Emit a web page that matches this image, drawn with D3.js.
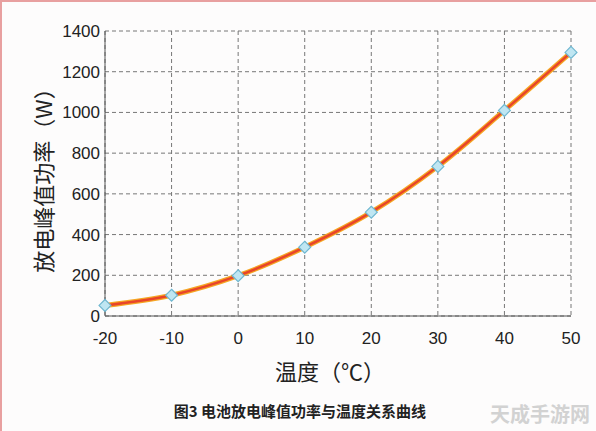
<!DOCTYPE html><html><head><meta charset="utf-8"><script src="https://cdn.jsdelivr.net/npm/d3@7"></script>
<style>body{margin:0;background:#fff}</style></head><body><svg id="c" width="596" height="431"></svg>
<script>
const temps=[-20,-10,0,10,20,30,40,50];
const power=[52,102,198,338,510,735,1010,1295];
const yTicks=[0,200,400,600,800,1000,1200,1400];
const svg=d3.select("#c");
svg.append("rect").attr("x",0).attr("y",0).attr("width",596).attr("height",431).attr("fill","#fdfcfc");
svg.append("path").attr("d","M1,431V1H596").attr("fill","none").attr("stroke","#e8a0a0").attr("stroke-width",2);
const x=d3.scaleLinear().domain([-20,50]).range([105,571]);
const y=d3.scaleLinear().domain([0,1400]).range([316,31]);
const g=svg.append("g");
g.selectAll(".gx").data(temps).join("line").attr("x1",d=>x(d)).attr("x2",d=>x(d)).attr("y1",y(1400)).attr("y2",y(0)).attr("stroke","#777").attr("stroke-dasharray","4,3");
g.selectAll(".gy").data(yTicks).join("line").attr("y1",d=>y(d)).attr("y2",d=>y(d)).attr("x1",x(-20)).attr("x2",x(50)).attr("stroke","#777").attr("stroke-dasharray","4,3");
g.append("line").attr("x1",x(-20)).attr("x2",x(-20)).attr("y1",y(1400)).attr("y2",y(0)).attr("stroke","#555");
g.append("line").attr("x1",x(-20)).attr("x2",x(50)).attr("y1",y(0)).attr("y2",y(0)).attr("stroke","#555");
g.selectAll(".ty").data(yTicks).join("text").attr("x",100).attr("y",d=>y(d)+6).attr("text-anchor","end").attr("font-family","Liberation Sans, Arial").attr("font-size",17).attr("fill","#222").text(d=>d);
g.selectAll(".tx").data(temps).join("text").attr("x",d=>x(d)).attr("y",344).attr("text-anchor","middle").attr("font-family","Liberation Sans, Arial").attr("font-size",17).attr("fill","#222").text(d=>d);
const pts=temps.map((t,i)=>[t,power[i]]);
const line=d3.line().x(d=>x(d[0])).y(d=>y(d[1])).curve(d3.curveMonotoneX);
svg.append("path").datum(pts).attr("d",line).attr("fill","none").attr("stroke","#f5a623").attr("stroke-width",5);
svg.append("path").datum(pts).attr("d",line).attr("fill","none").attr("stroke","#e8452a").attr("stroke-width",2.5);
svg.selectAll(".m").data(pts).join("path").attr("transform",d=>`translate(${x(d[0])},${y(d[1])})`).attr("d",d3.symbol(d3.symbolDiamond2,90)).attr("fill","#bfe6f2").attr("stroke","#6fb7d0").attr("stroke-width",1.2);
svg.append("text").attr("transform","translate(52,175) rotate(-90)").attr("text-anchor","middle").attr("font-family","Noto Sans CJK SC").attr("font-size",22).attr("fill","#222").text("放电峰值功率（W）");
svg.append("text").attr("x",330).attr("y",380).attr("text-anchor","middle").attr("font-family","Noto Sans CJK SC").attr("font-size",22).attr("fill","#222").text("温度（℃）");
svg.append("text").attr("x",300).attr("y",417).attr("text-anchor","middle").attr("font-family","Noto Sans CJK SC").attr("font-weight","bold").attr("font-size",15).attr("fill","#222").text("图3 电池放电峰值功率与温度关系曲线");
svg.append("text").attr("x",590).attr("y",422).attr("text-anchor","end").attr("font-family","Noto Sans CJK SC").attr("font-weight","bold").attr("font-size",20).attr("fill","#c8c8c8").attr("opacity",0.8).text("天成手游网");
</script></body></html>
